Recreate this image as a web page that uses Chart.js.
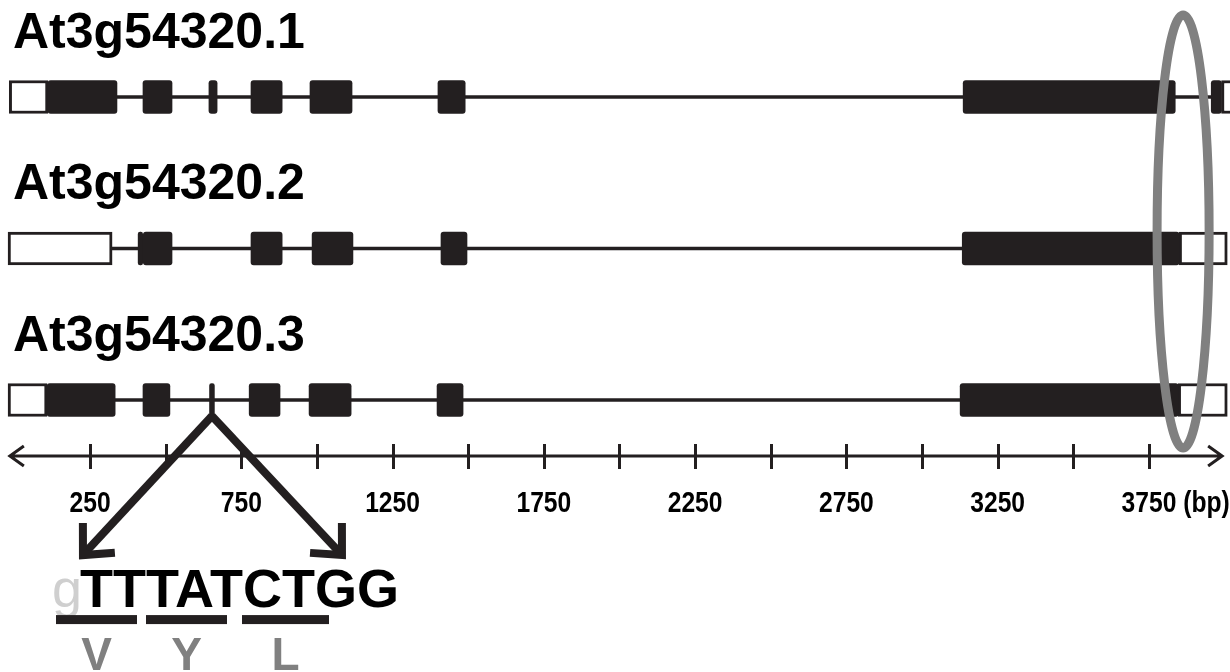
<!DOCTYPE html>
<html>
<head>
<meta charset="utf-8">
<title>At3g54320 gene models</title>
<script src="https://cdn.jsdelivr.net/npm/chart.js@4.4.1/dist/chart.umd.min.js"></script>
<style>
  html, body { margin: 0; padding: 0; background: #fff; }
  #wrap { width: 1230px; height: 672px; }
</style>
</head>
<body>
<div id="wrap"><canvas id="geneChart" width="1230" height="672"></canvas></div>
<script>
// transcript models, positions in bp
const transcripts = ['At3g54320.1', 'At3g54320.2', 'At3g54320.3'];
const introns = [[111, 3960], [323, 3850], [333, 3847]];

// untranslated regions (open boxes)
const utr1 = [[-17, 111], [3990, 4040]];
const utr2 = [[-21, 323], [3850, 4009]];
const utr3 = [[-21, 108], [3847, 4009]];

// coding exons (filled boxes)
const cds1 = [[111, 339], [425, 521], [643, 670], [782, 885], [977, 1116], [1400, 1490], [3136, 3837], [3956, 3990]];
const cds2 = [[409, 424], [426, 521], [782, 885], [984, 1119], [1410, 1496], [3133, 3850]];
const cds3 = [[108, 333], [425, 514], [645, 661], [776, 878], [974, 1113], [1397, 1483], [3126, 3847]];

// bp ruler
const tickValues = [250, 500, 750, 1000, 1250, 1500, 1750, 2000, 2250, 2500, 2750, 3000, 3250, 3500, 3750];
const labelValues = [250, 750, 1250, 1750, 2250, 2750, 3250, 3750];
const tickLabels = ['250', '750', '1250', '1750', '2250', '2750', '3250', '3750'];
const axisUnit = '(bp)';
const axisFrom = -15;
const axisTo = 3992;

// splice site detail and highlighted 3' end
const mutationSite = 653;
const seqPrefix = 'g';
const seqBases = 'TTTATCTGG';
const codons = ['V', 'Y', 'L'];
const highlightCenter = 3863;
const highlightHalfWidth = 86;

const INK = '#231f20';
const GREY = '#808080';
const FONT = '"Liberation Sans", Arial, Helvetica, sans-serif';

const toBars = (rows) => rows.flatMap((segs, i) => segs.map(s => ({ x: s, y: i + 1 })));

const geneAnnotations = {
    id: 'geneAnnotations',
    afterDatasetsDraw(chart) {
        const { ctx, scales: { x, y } } = chart;
        ctx.save();

        // grey ellipse around the 3' ends
        const cx = x.getPixelForValue(highlightCenter);
        const rx = x.getPixelForValue(highlightCenter + highlightHalfWidth) - cx;
        const cy = y.getPixelForValue(1.888);
        const ry = y.getPixelForValue(1.888 + 1.429) - cy;
        ctx.strokeStyle = GREY;
        ctx.lineWidth = 9;
        ctx.beginPath();
        ctx.ellipse(cx, cy, rx, ry, 0, 0, Math.PI * 2);
        ctx.stroke();

        // transcript names
        ctx.fillStyle = '#000';
        ctx.font = `bold 50px ${FONT}`;
        ctx.textAlign = 'left';
        ctx.textBaseline = 'alphabetic';
        transcripts.forEach((name, i) => {
            ctx.fillText(name, 13, y.getPixelForValue(i + 1) - 49);
        });

        // ruler
        const ay = y.getPixelForValue(3.37);
        const ax0 = x.getPixelForValue(axisFrom);
        const ax1 = x.getPixelForValue(axisTo);
        ctx.strokeStyle = INK;
        ctx.lineWidth = 3;
        ctx.lineJoin = 'miter';
        ctx.beginPath();
        ctx.moveTo(ax0, ay);
        ctx.lineTo(ax1, ay);
        ctx.moveTo(ax0 + 14, ay - 10);
        ctx.lineTo(ax0, ay);
        ctx.lineTo(ax0 + 14, ay + 10);
        ctx.moveTo(ax1 - 14, ay - 10);
        ctx.lineTo(ax1, ay);
        ctx.lineTo(ax1 - 14, ay + 10);
        tickValues.forEach(v => {
            const px = Math.round(x.getPixelForValue(v)) + 0.5;
            ctx.moveTo(px, ay - 12);
            ctx.lineTo(px, ay + 13);
        });
        ctx.stroke();

        ctx.fillStyle = '#000';
        ctx.font = `bold 29px ${FONT}`;
        labelValues.forEach((v, i) => {
            ctx.save();
            ctx.translate(x.getPixelForValue(v), ay + 56);
            ctx.scale(0.85, 1);
            ctx.textAlign = 'center';
            ctx.fillText(tickLabels[i], 0, 0);
            if (i === labelValues.length - 1) {
                const w = ctx.measureText(tickLabels[i]).width;
                ctx.textAlign = 'left';
                ctx.fillText(' ' + axisUnit, w / 2, 0);
            }
            ctx.restore();
        });

        // arrows from the splice site down to the sequence
        const sx = x.getPixelForValue(mutationSite);
        const sy = y.getPixelForValue(3) + 16;
        const ty = ay + 99;
        ctx.strokeStyle = INK;
        ctx.lineWidth = 8;
        [-129, 130].forEach(dx => {
            const tx = sx + dx;
            const ang = Math.atan2(sy - ty, sx - tx);
            const wing = 32;
            ctx.beginPath();
            ctx.moveTo(sx, sy);
            ctx.lineTo(tx, ty);
            ctx.stroke();
            ctx.beginPath();
            ctx.moveTo(tx + wing * Math.cos(ang + 0.75), ty + wing * Math.sin(ang + 0.75));
            ctx.lineTo(tx, ty);
            ctx.lineTo(tx + wing * Math.cos(ang - 0.75), ty + wing * Math.sin(ang - 0.75));
            ctx.stroke();
        });

        // sequence with codon bars
        const base = ay + 151;
        ctx.textAlign = 'left';
        ctx.font = `54px ${FONT}`;
        ctx.fillStyle = '#cfcfcf';
        ctx.fillText(seqPrefix, 52, base);
        ctx.font = `bold 54px ${FONT}`;
        ctx.fillStyle = '#000';
        ctx.fillText(seqBases, 80, base);

        const bars = [[56, 137], [146, 227], [242, 329]];
        ctx.font = `bold 46px ${FONT}`;
        bars.forEach(([b0, b1], i) => {
            ctx.fillStyle = INK;
            ctx.fillRect(b0, base + 8, b1 - b0, 9);
            ctx.fillStyle = GREY;
            ctx.textAlign = 'center';
            ctx.fillText(codons[i], (b0 + b1) / 2, base + 63);
        });

        ctx.restore();
    }
};

new Chart(document.getElementById('geneChart'), {
    type: 'bar',
    data: {
        datasets: [
            {
                label: 'CDS',
                data: toBars([cds1, cds2, cds3]),
                backgroundColor: INK,
                borderWidth: 0,
                borderRadius: 3,
                borderSkipped: false,
                barThickness: 33,
                grouped: false,
                order: 1
            },
            {
                label: 'UTR',
                data: toBars([utr1, utr2, utr3]),
                backgroundColor: '#ffffff',
                borderColor: INK,
                borderWidth: 3,
                borderSkipped: false,
                barThickness: 33,
                grouped: false,
                order: 2
            },
            {
                label: 'Intron',
                data: introns.map((s, i) => ({ x: s, y: i + 1 })),
                backgroundColor: INK,
                borderWidth: 0,
                barThickness: 3,
                grouped: false,
                order: 3
            }
        ]
    },
    options: {
        indexAxis: 'y',
        responsive: false,
        animation: false,
        devicePixelRatio: 1,
        events: [],
        layout: { padding: 0 },
        plugins: {
            legend: { display: false },
            tooltip: { enabled: false }
        },
        scales: {
            x: { type: 'linear', min: -47.6, max: 4018, offset: false, display: false },
            y: { type: 'linear', min: 0.36, max: 4.795, reverse: true, offset: false, display: false }
        }
    },
    plugins: [geneAnnotations]
});
</script>
</body>
</html>
